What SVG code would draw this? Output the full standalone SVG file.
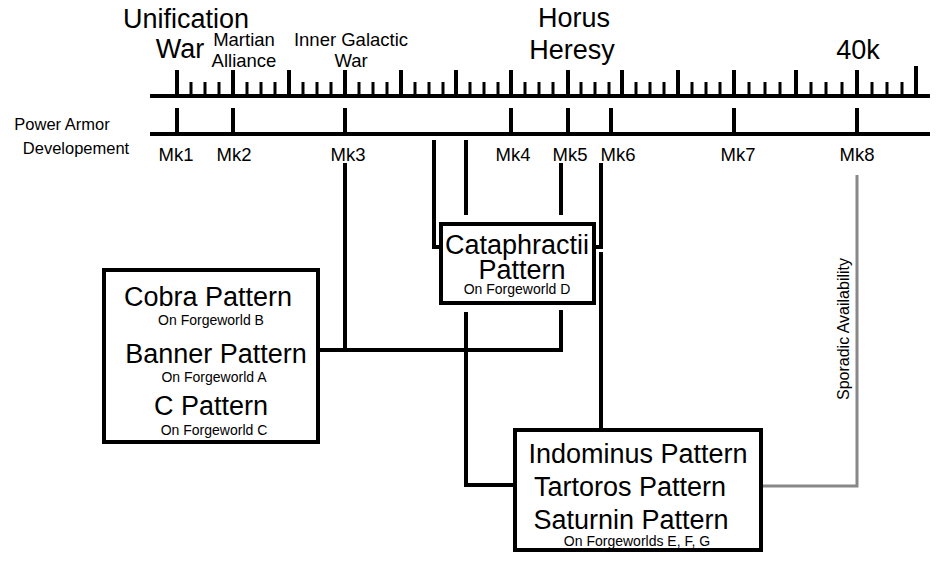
<svg xmlns="http://www.w3.org/2000/svg" width="944" height="567" viewBox="0 0 944 567">
<style>
text{font-family:"Liberation Sans",Arial,sans-serif;fill:#000;text-anchor:middle}
.big{font-size:27px}.mid{font-size:18.5px}.pa{font-size:16.5px}.sm{font-size:14px}
.k{stroke:#000;stroke-width:4;fill:none}
.box{stroke:#000;stroke-width:4;fill:#fff}
</style>
<rect width="944" height="567" fill="#fff"/>
<g id="timeline">
<line class="k" x1="150" y1="96" x2="930" y2="96"/>
<path class="k" d="M177 96V70M233 96V70M289 96V70M345 96V70M401 96V70M456 96V70M511 96V70M568 96V70M622 96V70M678 96V70M734 96V70M796 96V70M857 96V70M916 96V66"/>
<path stroke="#000" stroke-width="3" d="M191 96V82M205 96V82M219 96V82M247 96V82M261 96V82M275 96V82M303 96V82M317 96V82M331 96V82M359 96V82M373 96V82M387 96V82M415 96V82M429 96V82M443 96V82M470 96V82M484 96V82M498 96V82M525 96V82M539 96V82M553 96V82M581 96V82M595 96V82M609 96V82M636 96V82M650 96V82M664 96V82M692 96V82M706 96V82M720 96V82M749 96V82M765 96V82M780 96V82M811 96V82M826 96V82M842 96V82M872 96V82M887 96V82M902 96V82"/>
<text class="big" x="186" y="28">Unification</text>
<text class="big" x="180" y="58">War</text>
<text class="mid" x="244" y="46">Martian</text>
<text class="mid" x="244" y="67">Alliance</text>
<text class="mid" x="351" y="46">Inner Galactic</text>
<text class="mid" x="351" y="67">War</text>
<text class="big" x="574" y="27">Horus</text>
<text class="big" x="572" y="59">Heresy</text>
<text class="big" x="858" y="59">40k</text>
</g>
<g id="development">
<line class="k" x1="150" y1="134" x2="930" y2="134"/>
<path class="k" d="M177 134V108M233 134V108M345 134V108M511 134V108M568 134V108M611 134V108M734 134V108M857 134V108"/>
<text class="pa" x="62" y="130">Power Armor</text>
<text class="pa" x="76" y="154">Developement</text>
<text class="mid" x="176" y="161">Mk1</text>
<text class="mid" x="234" y="161">Mk2</text>
<text class="mid" x="348" y="161">Mk3</text>
<text class="mid" x="513" y="161">Mk4</text>
<text class="mid" x="570" y="161">Mk5</text>
<text class="mid" x="618" y="161">Mk6</text>
<text class="mid" x="738" y="161">Mk7</text>
<text class="mid" x="857" y="161">Mk8</text>
</g>
<g id="connectors">
<path class="k" d="M434 140V247H441"/>
<path class="k" d="M466 140V215"/>
<path class="k" d="M466 312V485H515"/>
<path class="k" d="M561 163V215"/>
<path class="k" d="M561 310V350H318"/>
<path class="k" d="M345 163V350"/>
<path class="k" d="M601 163V247H594"/>
<path class="k" d="M601 252V430"/>
<path stroke="#888" stroke-width="3" fill="none" d="M761 486H857V175"/>
<text style="font-size:16px" transform="translate(849,329) rotate(-90)">Sporadic Availability</text>
</g>
<g id="cobra">
<rect class="box" x="104" y="270" width="214" height="172"/>
<text class="big" x="208" y="306">Cobra Pattern</text>
<text class="sm" x="211" y="325">On Forgeworld B</text>
<text class="big" x="216" y="363">Banner Pattern</text>
<text class="sm" x="214" y="382">On Forgeworld A</text>
<text class="big" x="211" y="415">C Pattern</text>
<text class="sm" x="214" y="435">On Forgeworld C</text>
</g>
<g id="cataphractii">
<rect class="box" x="441" y="224" width="153" height="79"/>
<text class="big" x="517" y="254">Cataphractii</text>
<text class="big" x="522" y="279">Pattern</text>
<text class="sm" x="517" y="294">On Forgeworld D</text>
</g>
<g id="indominus">
<rect class="box" x="515" y="430" width="246" height="120"/>
<text class="big" x="638" y="463">Indominus Pattern</text>
<text class="big" x="630" y="496">Tartoros Pattern</text>
<text class="big" x="631" y="529">Saturnin Pattern</text>
<text class="sm" x="637" y="546">On Forgeworlds E, F, G</text>
</g>
</svg>
